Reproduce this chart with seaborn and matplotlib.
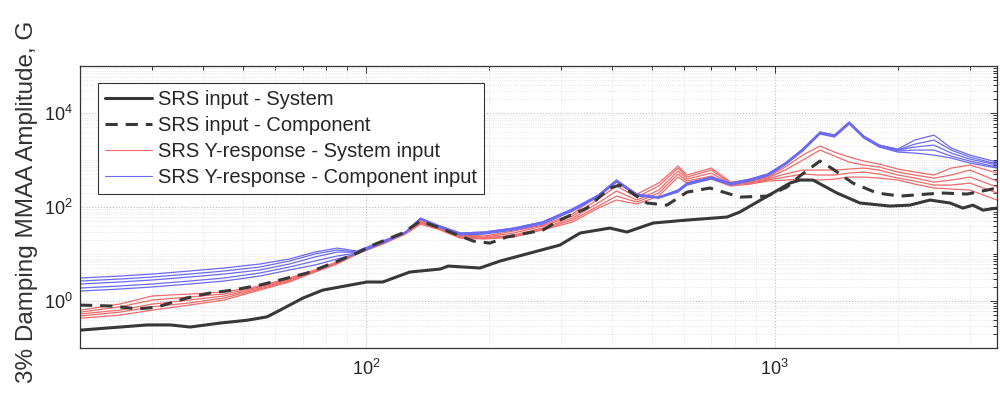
import numpy as np
import pandas as pd
import matplotlib
matplotlib.use("Agg")
import matplotlib.pyplot as plt
import seaborn as sns
from matplotlib.lines import Line2D
from matplotlib.ticker import LogLocator, FuncFormatter, NullFormatter, FixedLocator

# ---------------------------------------------------------------- data
# SRS input measured in the system-level test (frequency Hz, amplitude G)
sys_freq = [20, 25.1, 29.2, 33.2, 37.2, 44.0, 51.2, 57.3, 61.7, 70.2, 78.5,
            100.6, 110, 128, 152, 159, 190, 213, 298, 334, 395, 435, 504,
            610, 764, 821, 989, 1089, 1152, 1240, 1419, 1615, 1912, 2140,
            2395, 2681, 2884, 3051, 3228, 3493]
sys_amp = [0.24, 0.28, 0.31, 0.31, 0.28, 0.34, 0.39, 0.46, 0.64, 1.16, 1.71,
           2.54, 2.54, 4.14, 4.80, 5.55, 5.04, 7.10, 15.5, 28.0, 35.7, 29.4,
           45.7, 52.9, 61.3, 78.3, 199, 324, 375, 375, 199, 122, 105, 110,
           141, 122, 95, 110, 86, 95]

# SRS input applied in the component-level test
comp_freq = [20, 24.1, 27.6, 30.8, 36.5, 41.6, 47.3, 55.1, 61.6, 71.8, 83.1,
             95.1, 104, 123, 136, 152, 183, 201, 221, 271, 298, 347, 395,
             418, 487, 545, 610, 694, 822, 957, 1071, 1151, 1289, 1387, 1552,
             1778, 2024, 2355, 2575, 2951, 3304, 3494]
comp_amp = [0.82, 0.78, 0.68, 0.74, 1.16, 1.48, 1.71, 2.19, 2.80, 3.94, 6.43,
            10.5, 15.5, 28.0, 50.4, 35.7, 18.9, 17.1, 23.0, 32.4, 52.9, 95.0,
            254, 294, 122, 110, 208, 254, 163, 171, 267, 457, 953, 644, 324,
            199, 171, 189, 199, 189, 230, 254]

# Y-axis response SRS, shared frequency grid for every run
resp_freq = [20, 25, 30, 37, 45, 55, 65, 75, 85, 95,
             110, 125, 136, 150, 170, 195, 230, 270, 320, 370,
             410, 460, 520, 580, 610, 700, 780, 870, 960, 1060,
             1170, 1290, 1400, 1520, 1650, 1800, 2000, 2200, 2450, 2700,
             3000, 3494]

# responses to the system-level input
sys_resp_1 = [0.64, 0.86, 1.28, 1.41, 1.55, 2.09, 3.09, 4.57, 6.76, 10.5,
              18.0, 29.4, 53, 39, 25.4, 24.2, 30.9, 41, 71, 180,
              340, 189, 324, 745, 480, 676, 340, 375, 435, 710,
              1277, 1986, 1479, 1159, 952, 822, 644, 556, 480, 676,
              783, 529]
sys_resp_2 = [0.58, 0.75, 1.05, 1.22, 1.41, 1.99, 2.94, 4.35, 6.76, 10.5,
              17.1, 28.0, 50, 37.5, 24.2, 23.0, 28.0, 39, 64, 148,
              280, 163, 280, 676, 435, 613, 324, 357, 414, 613,
              1000, 1633, 1216, 906, 783, 710, 556, 480, 414, 480,
              613, 357]
sys_resp_3 = [0.53, 0.64, 0.86, 1.05, 1.28, 1.89, 2.80, 4.35, 6.44, 10.0,
              17.1, 28.0, 48, 35.7, 23.0, 21.9, 25.4, 35.7, 58, 122,
              219, 141, 230, 583, 394, 529, 308, 340, 394, 504,
              613, 613, 613, 644, 676, 613, 480, 414, 340, 375,
              435, 267]
sys_resp_4 = [0.48, 0.58, 0.75, 0.91, 1.16, 1.80, 2.66, 4.14, 6.44, 10.0,
              17.1, 28.0, 46, 35.7, 23.0, 21.9, 24.2, 34.0, 53, 105,
              171, 128, 199, 504, 357, 457, 294, 324, 375, 435,
              504, 480, 480, 529, 556, 504, 414, 357, 294, 294,
              324, 199]
sys_resp_5 = [0.43, 0.50, 0.64, 0.82, 1.05, 1.71, 2.54, 4.14, 6.13, 10.0,
              16.3, 26.6, 43, 34.0, 21.9, 20.9, 23.0, 32.4, 48, 95,
              141, 116, 171, 435, 324, 394, 280, 308, 357, 375,
              394, 375, 394, 435, 435, 414, 375, 308, 254, 242,
              230, 141]

# responses to the component-level input
comp_resp_1 = [3.09, 3.40, 3.75, 4.35, 5.04, 6.13, 7.83, 11.0, 13.4, 11.6,
               18.9, 29.4, 58, 41, 28.0, 29.4, 35.7, 48, 91, 180,
               375, 189, 163, 230, 324, 435, 324, 394, 504, 863,
               1714, 3944, 3404, 6442, 3241, 2084, 1714, 2667, 3404, 1799,
               1277, 906]
comp_resp_2 = [2.66, 2.94, 3.24, 3.75, 4.35, 5.29, 7.10, 10.0, 12.2, 11.0,
               18.9, 29.4, 58, 41, 28.0, 29.4, 35.7, 48, 91, 180,
               375, 189, 163, 230, 324, 435, 324, 394, 504, 863,
               1714, 3944, 3404, 6442, 3241, 2084, 1633, 2188, 2667, 1633,
               1159, 822]
comp_resp_3 = [2.30, 2.54, 2.80, 3.24, 3.75, 4.57, 6.13, 8.63, 11.0, 11.0,
               18.0, 28.0, 56, 39, 26.6, 28.0, 34.0, 46, 86, 171,
               357, 180, 163, 219, 308, 414, 308, 375, 480, 822,
               1633, 3753, 3241, 6124, 3084, 1986, 1633, 1892, 2084, 1409,
               1050, 783]
comp_resp_4 = [1.89, 2.09, 2.30, 2.66, 3.09, 3.94, 5.29, 7.10, 9.06, 10.5,
               18.0, 28.0, 56, 39, 26.6, 28.0, 34.0, 46, 86, 171,
               357, 180, 155, 219, 308, 414, 308, 375, 480, 822,
               1633, 3753, 3241, 6124, 3084, 1986, 1553, 1633, 1633, 1216,
               952, 710]
comp_resp_5 = [1.63, 1.80, 1.99, 2.30, 2.66, 3.40, 4.57, 5.83, 7.83, 10.0,
               17.1, 28.0, 56, 37.5, 25.4, 26.6, 32.4, 43, 82, 163,
               340, 171, 155, 208, 294, 394, 294, 357, 457, 783,
               1553, 3573, 3084, 5834, 2938, 1892, 1479, 1409, 1277, 1104,
               863, 676]

# labelled ticks
x_ticks = [1e2, 1e3]
y_ticks = [1e0, 1e2, 1e4]

series_labels = ["SRS input - System",
                 "SRS input - Component",
                 "SRS Y-response - System input",
                 "SRS Y-response - Component input"]
y_label = "3% Damping MMAA Amplitude, G"

# ---------------------------------------------------------------- style
sns.set_style("white")
plt.rcParams["font.family"] = ["Liberation Sans", "DejaVu Sans"]
plt.rcParams["mathtext.default"] = "regular"

INPUT_COLOR = "#383838"
SYS_RESP_COLOR = "#f26a6a"
COMP_RESP_COLOR = "#6a6af2"


def runs_frame(freq, runs):
    parts = [pd.DataFrame({"freq": freq, "amp": amp, "run": k})
             for k, amp in enumerate(runs)]
    return pd.concat(parts, ignore_index=True)


sys_resp_df = runs_frame(resp_freq, [sys_resp_1, sys_resp_2, sys_resp_3,
                                     sys_resp_4, sys_resp_5])
comp_resp_df = runs_frame(resp_freq, [comp_resp_1, comp_resp_2, comp_resp_3,
                                      comp_resp_4, comp_resp_5])
sys_df = pd.DataFrame({"freq": sys_freq, "amp": sys_amp})
comp_df = pd.DataFrame({"freq": comp_freq, "amp": comp_amp})

fig = plt.figure(figsize=(10, 4.08), dpi=100)
ax = fig.add_axes([0.080, 0.147, 0.917, 0.691])
ax.set_xscale("log")
ax.set_yscale("log")

sns.lineplot(data=sys_resp_df, x="freq", y="amp", units="run", estimator=None,
             color=SYS_RESP_COLOR, lw=0.9, sort=False, legend=False, ax=ax)
sns.lineplot(data=comp_resp_df, x="freq", y="amp", units="run", estimator=None,
             color=COMP_RESP_COLOR, lw=0.9, sort=False, legend=False, ax=ax)
sns.lineplot(data=sys_df, x="freq", y="amp", color=INPUT_COLOR, lw=2.2,
             sort=False, legend=False, ax=ax)
sns.lineplot(data=comp_df, x="freq", y="amp", color=INPUT_COLOR, lw=2.2,
             sort=False, legend=False, ax=ax)
ax.lines[-1].set_dashes((4, 2.6))

ax.set_xlim(20, 3494)
ax.set_ylim(0.1, 1e5)
ax.set_xlabel("")
ax.set_ylabel("")

fmt = FuncFormatter(lambda v, _: r"$10^{%d}$" % round(np.log10(v)))
ax.xaxis.set_major_locator(FixedLocator(x_ticks))
ax.xaxis.set_minor_locator(LogLocator(base=10.0, subs=np.arange(2, 10), numticks=50))
ax.xaxis.set_major_formatter(fmt)
ax.xaxis.set_minor_formatter(NullFormatter())
ax.yaxis.set_major_locator(FixedLocator(y_ticks))
ax.yaxis.set_minor_locator(LogLocator(base=10.0, subs=np.arange(1, 10), numticks=50))
ax.yaxis.set_major_formatter(fmt)
ax.yaxis.set_minor_formatter(NullFormatter())

ax.tick_params(which="both", direction="in", top=True, right=True,
               color="#333333", width=0.7, labelcolor="#222222")
ax.tick_params(which="major", length=5, labelsize=13, pad=5)
ax.tick_params(which="minor", length=3)
ax.tick_params(axis="x", which="major", pad=8)

ax.grid(True, which="major", ls=":", lw=0.8, color="#bdbdbd")
ax.grid(True, which="minor", ls=":", lw=0.6, color="#dcdcdc")
ax.set_axisbelow(True)
for sp in ax.spines.values():
    sp.set_color("#333333")
    sp.set_linewidth(0.9)

handles = [
    Line2D([], [], color=INPUT_COLOR, lw=2.2),
    Line2D([], [], color=INPUT_COLOR, lw=2.2, dashes=(4, 2.6)),
    Line2D([], [], color=SYS_RESP_COLOR, lw=0.8),
    Line2D([], [], color=COMP_RESP_COLOR, lw=0.8),
]
leg = ax.legend(handles, series_labels, loc="upper left",
                bbox_to_anchor=(0.0196, 0.940), borderaxespad=0.0,
                fontsize=14.5, handlelength=2.35, handletextpad=0.3,
                labelspacing=0.34, borderpad=0.35, fancybox=False,
                framealpha=1.0, edgecolor="#333333")
leg.get_frame().set_linewidth(0.8)

fig.text(0.027, 0.505, y_label, rotation=90, ha="center", va="center",
         fontsize=17.5, color="#333333")

fig.savefig("out.png", dpi=100, facecolor="white")
